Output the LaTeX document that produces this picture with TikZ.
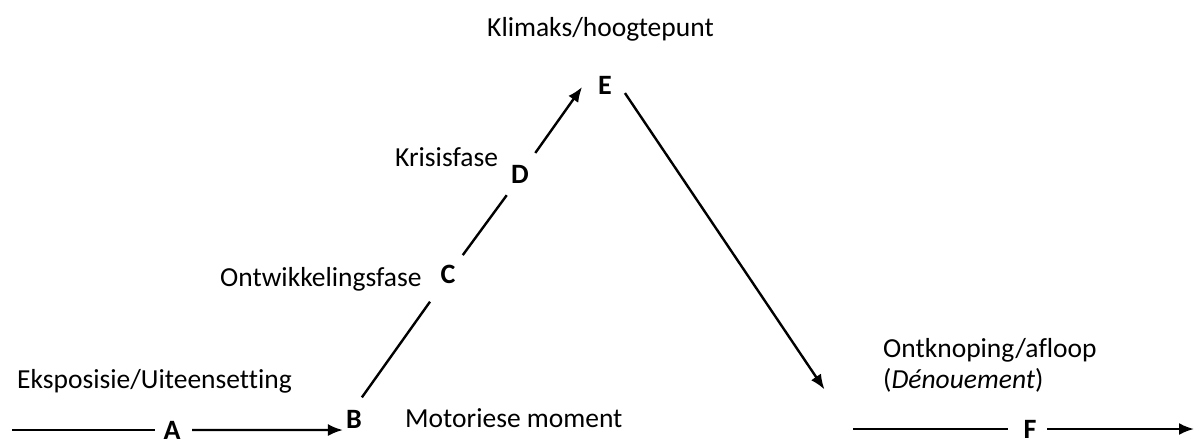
\documentclass[tikz,border=0pt]{standalone}
\usepackage{fontspec}
\setmainfont[Ligatures=NoCommon]{Carlito}
\usetikzlibrary{arrows.meta,calc}
\tikzset{
  letter/.style={font=\fontsize{28}{28}\selectfont\bfseries, inner sep=0pt},
  lbl/.style={font=\fontsize{27.5}{30}\selectfont, inner sep=0pt, anchor=base west},
  conn/.style={line width=2.4pt},
  arr/.style={conn, -{Latex[length=15pt,width=12pt]}},
}
\begin{document}
\begin{tikzpicture}[x=1pt,y=1pt]
\useasboundingbox (0,0) rectangle (1195,-444);
% letters
\node[letter] (A) at (172,-430) {A};
\node[letter] (B) at (354,-419) {B};
\node[letter] (C) at (448,-274) {C};
\node[letter] (D) at (520,-174) {D};
\node[letter] (E) at (605,-85) {E};
\node[letter] (F) at (1030,-429) {F};
\coordinate (S) at (12,-430);
\coordinate (Fs) at (853,-429);
\coordinate (T) at (1194,-429);
% labels
\node[lbl] (lE) at (487,-37) {Klimaks/hoogtepunt};
\node[lbl] (lD) at (395,-166) {Krisisfase};
\node[lbl] (lC) at (220,-286) {Ontwikkelingsfase};
\node[lbl] (lA) at (17,-388) {Eksposisie/Uiteensetting};
\node[lbl] (lB) at (405,-427) {Motoriese moment};
\node[lbl] (lF1) at (883,-357) {Ontknoping/afloop};
\node[lbl] (lF2) at (883,-388) {(\textit{Dénouement})};
% connectors
\draw[conn] (S) -- ($(A)+(180:17)$);
\draw[arr] ($(A)+(0:20)$) -- ($(B)+(225:15.6)$);
\draw[conn] ($(B)+(70:23)$) -- ($(C)+(237:33)$);
\draw[conn] ($(C)+(52:24)$) -- ($(D)+(238:25)$);
\draw[arr] ($(D)+(54:26)$) -- ($(E)+(185:23)$);
\draw[arr] ($(E)+(338:21.5)$) -- ($(E)!0.885!(Fs)$);
\draw[conn] (Fs) -- ($(F)+(180:22)$);
\draw[arr] ($(F)+(0:17)$) -- (T);
\end{tikzpicture}
\end{document}
